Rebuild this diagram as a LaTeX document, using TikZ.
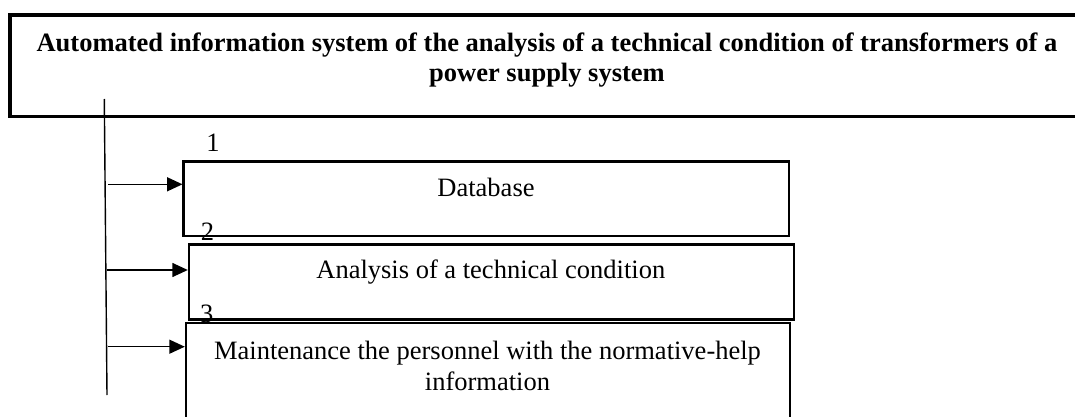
\documentclass[tikz,border=0pt]{standalone}
\usepackage{fontspec}
\setmainfont{Liberation Serif}
\usetikzlibrary{arrows.meta}
\begin{document}
\begin{tikzpicture}[x=1pt,y=-1pt,
  frame/.style={draw, line width=2.5pt, inner sep=0pt, outer sep=0pt, anchor=north west},
  txt/.style={inner sep=0pt, anchor=base, font=\fontsize{26.5}{30.7}\selectfont},
  conn/.style={line width=1.5pt, shorten >=1.2pt, -{Triangle[length=15.5pt,width=14pt]}},
]
\useasboundingbox (0,0) rectangle (1075,417);
\clip (0,0) rectangle (1075,417);
% title frame
\node[frame, line width=3.3pt, minimum width=1074pt, minimum height=101.5pt] (top) at (10,15) {};
\node[txt, font=\fontsize{26.5}{30.7}\selectfont\bfseries, align=center] (title) at (547,82)
  {Automated information system of the analysis of a technical condition of transformers of a\\power supply system};
% boxes
\node[frame, minimum width=605.1pt, minimum height=74.9pt] (b1) at (183.7,161.3) {};
\node[frame, minimum width=605.2pt, minimum height=75.2pt] (b2) at (189,244.3) {};
\node[frame, minimum width=604.2pt, minimum height=130pt] (b3) at (186,323) {};
\node[txt] (t1) at (486,196.7) {Database};
\node[txt] (t2) at (490.8,278.3) {Analysis of a technical condition};
\node[txt, align=center] (t3) at (487.5,390) {Maintenance the personnel with the normative-help\\information};
% numbers
\node[txt] (n1) at (213,151.7) {1};
\node[txt] (n2) at (207.5,240) {2};
\node[txt] (n3) at (206.7,322.7) {3};
% trunk line
\coordinate (vtop) at (104.3,99);
\coordinate (vbot) at (107,395);
\draw[line width=1.4pt] (vtop) -- (vbot);
% arrows
\coordinate (s1) at (108,184.3);
\coordinate (s2) at (107.3,270);
\coordinate (s3) at (108,346.7);
\draw[conn] (s1) -- (s1 -| b1.west);
\draw[conn] (s2) -- (s2 -| b2.west);
\draw[conn] (s3) -- (s3 -| b3.west);
\end{tikzpicture}
\end{document}
